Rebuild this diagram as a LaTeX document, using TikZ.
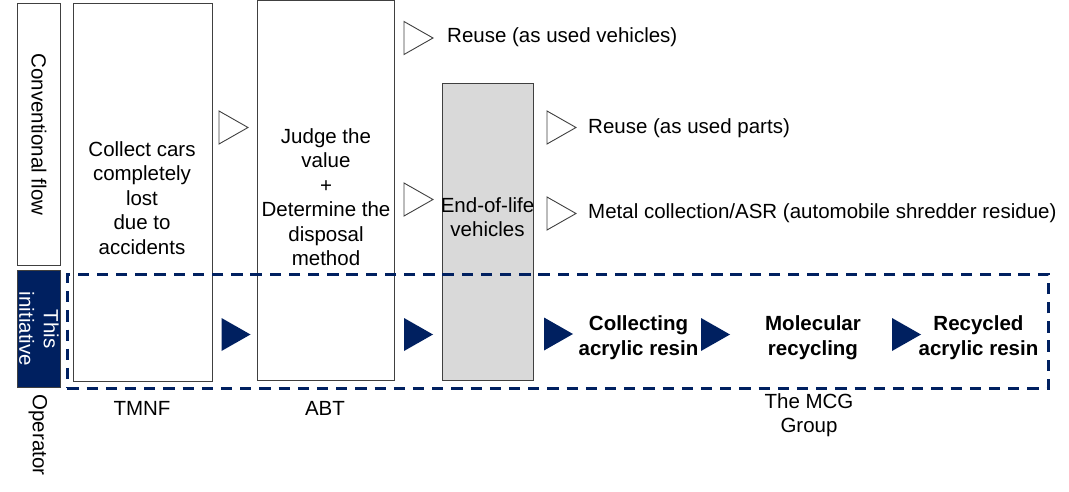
\documentclass[tikz,border=0pt]{standalone}
\usepackage{fontspec}
\setmainfont{Liberation Sans}
\definecolor{navy}{HTML}{002060}
\definecolor{boxline}{HTML}{404040}
\definecolor{grayfill}{HTML}{D9D9D9}
\begin{document}
\begin{tikzpicture}[x=1pt,y=-1pt,
  font=\fontsize{20.5}{24.5}\selectfont,
  box/.style={draw=boxline, line width=1pt, inner sep=0pt, anchor=north west},
  lbl/.style={align=center, inner sep=0pt},
  bl/.style={align=center, inner sep=0pt, font=\fontsize{20.5}{24.5}\selectfont\bfseries},
  frame/.style={draw=navy, line width=2.7pt, dash pattern=on 11.3pt off 7.9pt, inner sep=0pt, anchor=north west},
  tri/.pic={\path[pic actions] (-14.5,-16.5) -- (14.5,0) -- (-14.5,16.5) -- cycle;},
  wt/.style={draw=boxline, fill=white, line width=0.9pt},
  dt/.style={fill=navy}]
\useasboundingbox (0,0) rectangle (1069,492);

% left labels
\node[box, minimum width=43pt, minimum height=262pt] (conv) at (17,3) {};
\node[lbl, rotate=-90] (convt) at (conv.center) {Conventional flow};
\node[box, fill=navy, minimum width=43pt, minimum height=117pt] (this) at (17,270) {};
\node[lbl, rotate=-90, text=white] (thist) at (this.center) {This\\initiative};
\node[lbl, rotate=-90] (op) at (38,435) {Operator};

% boxes
\node[box, fill=white, minimum width=139pt, minimum height=378pt] (tmnf) at (73,3) {};
\node[box, fill=white, minimum width=137pt, minimum height=379.5pt] (abt) at (257,0.5) {};
\node[box, fill=grayfill, minimum width=91pt, minimum height=297pt] (eol) at (442,83) {};

% dashed frame
\node[frame, minimum width=981pt, minimum height=114pt] (fr) at (66,273) {};

\node[lbl] (collect) at (142,198) {Collect cars\\completely\\lost\\due to\\accidents};
\node[lbl] (judge) at (326,197) {Judge the\\value\\+\\Determine the\\disposal\\method};
\node[lbl] (eolt) at (487.5,217) {End-of-life\\vehicles};

% outcomes
\node[lbl, anchor=west] (reuseveh) at (447,37) {Reuse (as used vehicles)};
\node[lbl, anchor=west] (reusepar) at (588,128) {Reuse (as used parts)};
\node[lbl, anchor=west] (metal) at (588,213) {Metal collection/ASR (automobile shredder residue)};

% white triangles
\pic[wt] at (233.5,127.5) {tri};
\pic[wt] at (418.5,38) {tri};
\pic[wt] at (418.5,199.5) {tri};
\pic[wt] at (561.5,127.5) {tri};
\pic[wt] at (561.5,213.5) {tri};

% dark triangles
\pic[dt] at (236,334.5) {tri};
\pic[dt] at (418.5,334.5) {tri};
\pic[dt] at (558.5,334) {tri};
\pic[dt] at (715.5,334.5) {tri};
\pic[dt] at (906.5,334.5) {tri};

% new flow
\node[bl] (collres) at (638.5,337.5) {Collecting\\acrylic resin};
\node[bl] (molrec) at (813,337.5) {Molecular\\recycling};
\node[bl] (recres) at (978.5,337.5) {Recycled\\acrylic resin};

% operators
\node[lbl] (tmnft) at (142,408) {TMNF};
\node[lbl] (abtt) at (325,408) {ABT};
\node[lbl] (mcgt) at (809,415) {The MCG\\Group};
\end{tikzpicture}
\end{document}
